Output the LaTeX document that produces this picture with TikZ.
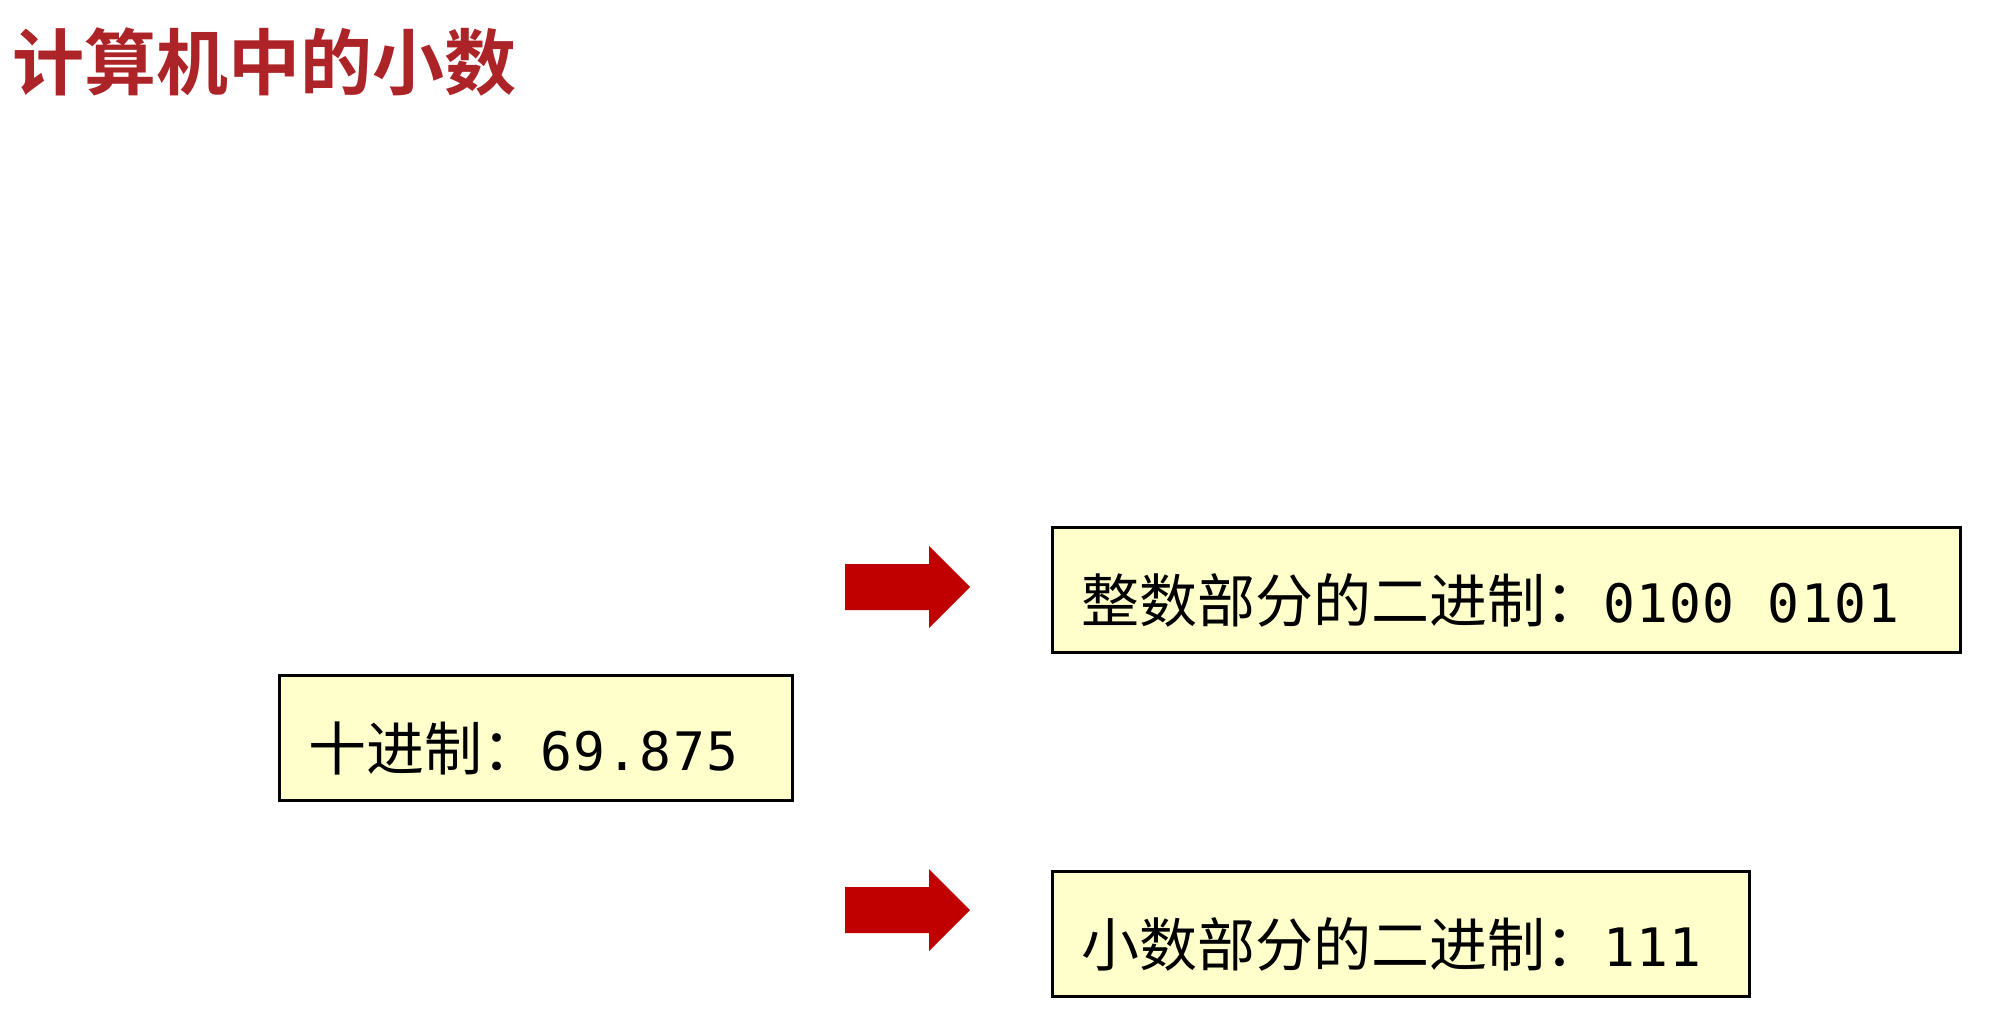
\documentclass[tikz,border=0pt]{standalone}
\usepackage{fontspec}
\newfontfamily\cjk{Noto Sans CJK SC}
\newfontfamily\cjkbold{Noto Sans CJK SC Bold}
\newfontfamily\mono[LetterSpace=2.5]{DejaVu Sans Mono}
\definecolor{titlered}{RGB}{172,36,40}
\definecolor{arrowred}{RGB}{192,0,0}
\definecolor{boxfill}{RGB}{255,255,204}
\begin{document}
\begin{tikzpicture}[x=1pt,y=-1pt,
  numbox/.style={draw=black,line width=2.5pt,fill=boxfill,rectangle,anchor=north west,
    inner xsep=29pt,inner ysep=0pt,align=left,minimum height=125pt,
    text height=68pt,text depth=3pt},
  blockarrow/.style={fill=arrowred}]
\useasboundingbox (0,0) rectangle (2002,1012);
\fill[white] (0,0) rectangle (2002,1012);
\node[anchor=west,inner sep=0pt,text=titlered,font=\cjkbold\fontsize{72}{80}\selectfont] (title) at (12,62) {计算机中的小数};
\node[numbox,text width=455pt] (dec) at (278,674) {{\cjk\fontsize{58}{60}\selectfont 十进制：}{\mono\fontsize{53}{60}\selectfont 69.875}};
\node[numbox,text width=850pt] (int) at (1051,526) {{\cjk\fontsize{58}{60}\selectfont 整数部分的二进制：}{\mono\fontsize{53}{60}\selectfont 0100\hspace{33pt}0101}};
\node[numbox,text width=639pt] (frac) at (1051,870) {{\cjk\fontsize{58}{60}\selectfont 小数部分的二进制：}{\mono\fontsize{53}{60}\selectfont 111}};
\coordinate (a1) at (845,587);
\coordinate (a2) at (845,910);
\foreach \c in {a1,a2}{
  \fill[blockarrow] (\c) ++(0,-23) -- ++(84,0) -- ++(0,-18) -- ++(41,41) -- ++(-41,41) -- ++(0,-18) -- ++(-84,0) -- cycle;
}
\end{tikzpicture}
\end{document}
